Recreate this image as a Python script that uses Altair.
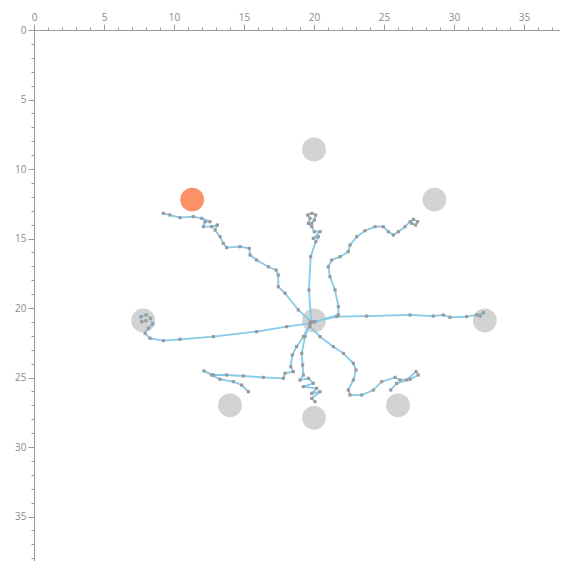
import altair as alt
import pandas as pd

# Targets (data coordinates)
target_x = [20.0, 28.6, 32.2, 26.0, 20.0, 14.0, 7.8, 11.3, 20.0]
target_y = [8.6, 12.2, 20.9, 27.0, 27.9, 27.0, 20.9, 12.2, 20.9]
target_kind = ["other", "other", "other", "other", "other", "other", "other", "goal", "other"]

# Trajectories
path_nw_x = [19.8, 18.88, 17.93, 17.45, 17.45, 17.29, 16.74, 15.9, 15.43, 15.38, 14.71, 13.76, 13.52, 13.29, 12.93, 13.1, 12.69, 12.1, 12.21, 12.57, 11.98, 11.38, 10.43, 9.71, 9.24]
path_nw_y = [21.0, 20.14, 18.94, 18.47, 17.63, 17.27, 17.03, 16.55, 16.19, 15.71, 15.59, 15.66, 15.35, 14.87, 14.39, 14.03, 14.15, 14.15, 13.79, 13.79, 13.55, 13.43, 13.5, 13.31, 13.19]

path_n_x = [19.8, 19.64, 19.76, 20.12, 20.31, 19.95, 20.43, 20.02, 19.84, 19.6, 19.71, 19.55, 19.84, 20.12, 20.02, 19.84]
path_n_y = [21.0, 18.71, 16.31, 15.23, 14.87, 14.99, 14.51, 14.51, 14.15, 13.91, 13.55, 13.31, 13.19, 13.31, 13.67, 13.91]

path_ne_x = [20.07, 21.74, 21.74, 21.5, 21.14, 21.02, 21.26, 21.86, 22.45, 22.57, 23.05, 23.64, 24.36, 24.95, 25.31, 25.67, 26.02, 26.5, 26.86, 27.1, 27.4, 27.26, 26.98]
path_ne_y = [20.99, 20.5, 19.9, 18.7, 17.75, 17.03, 16.55, 16.31, 15.95, 15.47, 14.87, 14.44, 14.15, 14.15, 14.51, 14.75, 14.51, 14.15, 13.79, 13.62, 13.79, 14.03, 13.91]

path_e_x = [19.95, 21.62, 23.76, 26.86, 28.52, 29.24, 29.71, 30.9, 31.62, 32.1, 31.86]
path_e_y = [20.99, 20.62, 20.58, 20.5, 20.58, 20.5, 20.67, 20.62, 20.5, 20.34, 20.58]

path_se_x = [19.71, 20.43, 21.38, 22.1, 22.81, 23.0, 22.81, 22.45, 22.57, 23.4, 24.24, 24.83, 25.79, 26.14, 26.86, 27.45, 27.29, 26.62, 25.9, 25.48]
path_se_y = [21.34, 22.06, 22.78, 23.26, 23.98, 24.46, 25.18, 25.9, 26.26, 26.26, 25.9, 25.3, 24.99, 25.18, 25.13, 24.82, 24.58, 25.18, 25.42, 25.9]

path_s_x = [19.71, 19.36, 19.12, 19.19, 19.24, 19.0, 19.6, 19.95, 19.24, 20.19, 19.84, 20.43, 19.84, 20.07]
path_s_y = [21.1, 22.06, 23.26, 24.1, 24.82, 25.18, 25.06, 25.42, 25.66, 25.78, 26.14, 26.02, 26.5, 26.74]

path_sw_x = [19.71, 19.24, 18.76, 18.45, 18.34, 18.52, 17.93, 17.81, 16.38, 14.95, 13.76, 12.81, 12.14, 12.69, 13.29, 14.24, 14.83, 15.31]
path_sw_y = [21.1, 22.06, 22.78, 23.38, 24.22, 24.58, 24.7, 25.06, 24.99, 24.89, 24.82, 24.82, 24.53, 24.82, 25.13, 25.3, 25.54, 26.02]

path_w_x = [19.71, 18.05, 15.9, 12.81, 10.43, 9.24, 8.29, 7.93, 8.17, 8.48, 8.33, 8.0, 7.64, 7.69, 8.0]
path_w_y = [21.1, 21.34, 21.7, 22.06, 22.25, 22.35, 22.18, 21.82, 21.46, 21.15, 20.74, 20.5, 20.62, 20.99, 20.91]

# Axis ticks
x_ticks = list(range(0, 38))
y_ticks = list(range(0, 39))

paths = {
    "nw": (path_nw_x, path_nw_y),
    "n": (path_n_x, path_n_y),
    "ne": (path_ne_x, path_ne_y),
    "e": (path_e_x, path_e_y),
    "se": (path_se_x, path_se_y),
    "s": (path_s_x, path_s_y),
    "sw": (path_sw_x, path_sw_y),
    "w": (path_w_x, path_w_y),
}

rows = []
for name, (xs, ys) in paths.items():
    for i, (x, y) in enumerate(zip(xs, ys)):
        rows.append({"path": name, "order": i, "x": x, "y": y})
path_df = pd.DataFrame(rows)
target_df = pd.DataFrame({"x": target_x, "y": target_y, "kind": target_kind})

AX = "#9a9a9a"
common_axis = dict(
    grid=False, title=None, labelOverlap=False, labelFlush=False,
    domainColor=AX, tickColor=AX, labelColor="#8a8a8a",
    labelFont="Open Sans", labelFontSize=10, labelPadding=2,
    tickSize={"condition": {"test": "datum.value % 5 === 0", "value": 6}, "value": 3},
    labelExpr="datum.value % 5 === 0 ? datum.label : ''",
)

x_scale = alt.Scale(domain=[0, 37.57], nice=False, zero=False)
y_scale = alt.Scale(domain=[0, 38.2], nice=False, zero=False, reverse=True)

x_enc = alt.X("x:Q", scale=x_scale, axis=alt.Axis(orient="top", values=x_ticks, **common_axis))
y_enc = alt.Y("y:Q", scale=y_scale, axis=alt.Axis(orient="left", values=y_ticks, **common_axis))

circles = alt.Chart(target_df).mark_circle(size=570, opacity=1).encode(
    x=x_enc, y=y_enc,
    color=alt.Color("kind:N", scale=alt.Scale(domain=["other", "goal"], range=["#d3d3d3", "#fc9166"]), legend=None),
)

lines = alt.Chart(path_df).mark_line(color="#85caea", strokeWidth=1.8).encode(
    x=x_enc, y=y_enc, detail="path:N", order="order:Q"
)

dots = alt.Chart(path_df).mark_square(size=10, color="#9a9a9a", opacity=1).encode(
    x=x_enc, y=y_enc
)

chart = alt.layer(circles, lines, dots).properties(
    width=526, height=531,
    autosize=alt.AutoSizeParams(type="none"),
    padding={"left": 26, "top": 22, "right": 0, "bottom": 0},
).configure_view(stroke=None)

chart.save("out.html", embed_options={"renderer": "svg", "actions": False})
